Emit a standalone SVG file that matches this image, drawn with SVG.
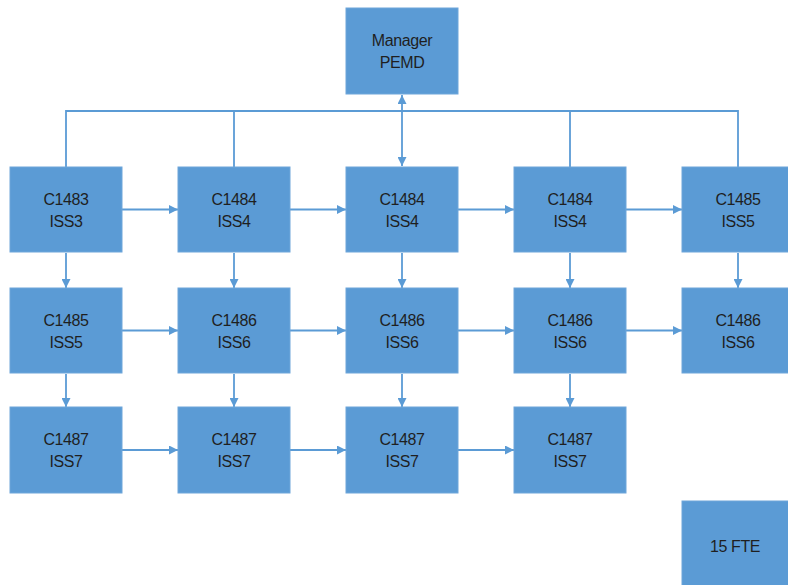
<svg xmlns="http://www.w3.org/2000/svg" width="788" height="585" viewBox="0 0 788 585">
<style>
.box{fill:#5B9BD5;stroke:#6FA6DA;stroke-width:1}
.t{font-family:"Liberation Sans",Arial,sans-serif;font-size:16px;letter-spacing:-0.4px;fill:#1f1f1f;text-anchor:middle}
.c{stroke:#5B9BD5;stroke-width:1.8;fill:none}
.a{stroke:#5B9BD5;stroke-width:1.8;fill:none;marker-end:url(#ah)}
</style>
<defs>
<marker id="ah" viewBox="0 0 10 10" refX="10" refY="5" markerUnits="userSpaceOnUse" markerWidth="9" markerHeight="9" orient="auto">
<path d="M0,0 L10,5 L0,10 Z" fill="#5B9BD5"/>
</marker>
<marker id="as" viewBox="0 0 10 10" refX="10" refY="5" markerUnits="userSpaceOnUse" markerWidth="9" markerHeight="9" orient="auto-start-reverse">
<path d="M0,0 L10,5 L0,10 Z" fill="#5B9BD5"/>
</marker>
</defs>
<rect width="788" height="585" fill="#fff"/>
<g id="connectors">
<path class="c" d="M66,167 V111 H738 V167 M234,111 V167 M570,111 V167"/>
<path class="c" d="M402,95 V166" marker-start="url(#as)" marker-end="url(#as)"/>
<path class="a" d="M122,209.5 H178"/>
<path class="a" d="M290,209.5 H346"/>
<path class="a" d="M458,209.5 H514"/>
<path class="a" d="M626,209.5 H682"/>
<path class="a" d="M122,330.5 H178"/>
<path class="a" d="M290,330.5 H346"/>
<path class="a" d="M458,330.5 H514"/>
<path class="a" d="M626,330.5 H682"/>
<path class="a" d="M122,450 H178"/>
<path class="a" d="M290,450 H346"/>
<path class="a" d="M458,450 H514"/>
<path class="a" d="M66,253 V288"/>
<path class="a" d="M234,253 V288"/>
<path class="a" d="M402,253 V288"/>
<path class="a" d="M570,253 V288"/>
<path class="a" d="M738,253 V288"/>
<path class="a" d="M66,374 V407"/>
<path class="a" d="M234,374 V407"/>
<path class="a" d="M402,374 V407"/>
<path class="a" d="M570,374 V407"/>
</g>
<g id="manager"><rect class="box" x="346" y="8" width="112" height="86"/><text class="t" x="402" y="46">Manager</text><text class="t" x="402" y="68">PEMD</text></g>
<g id="r1c1"><rect class="box" x="10" y="167" width="112" height="85"/><text class="t" x="66" y="204.5">C1483</text><text class="t" x="66" y="226.5">ISS3</text></g>
<g id="r1c2"><rect class="box" x="178" y="167" width="112" height="85"/><text class="t" x="234" y="204.5">C1484</text><text class="t" x="234" y="226.5">ISS4</text></g>
<g id="r1c3"><rect class="box" x="346" y="167" width="112" height="85"/><text class="t" x="402" y="204.5">C1484</text><text class="t" x="402" y="226.5">ISS4</text></g>
<g id="r1c4"><rect class="box" x="514" y="167" width="112" height="85"/><text class="t" x="570" y="204.5">C1484</text><text class="t" x="570" y="226.5">ISS4</text></g>
<g id="r1c5"><rect class="box" x="682" y="167" width="112" height="85"/><text class="t" x="738" y="204.5">C1485</text><text class="t" x="738" y="226.5">ISS5</text></g>
<g id="r2c1"><rect class="box" x="10" y="288" width="112" height="85"/><text class="t" x="66" y="325.5">C1485</text><text class="t" x="66" y="347.5">ISS5</text></g>
<g id="r2c2"><rect class="box" x="178" y="288" width="112" height="85"/><text class="t" x="234" y="325.5">C1486</text><text class="t" x="234" y="347.5">ISS6</text></g>
<g id="r2c3"><rect class="box" x="346" y="288" width="112" height="85"/><text class="t" x="402" y="325.5">C1486</text><text class="t" x="402" y="347.5">ISS6</text></g>
<g id="r2c4"><rect class="box" x="514" y="288" width="112" height="85"/><text class="t" x="570" y="325.5">C1486</text><text class="t" x="570" y="347.5">ISS6</text></g>
<g id="r2c5"><rect class="box" x="682" y="288" width="112" height="85"/><text class="t" x="738" y="325.5">C1486</text><text class="t" x="738" y="347.5">ISS6</text></g>
<g id="r3c1"><rect class="box" x="10" y="407" width="112" height="86"/><text class="t" x="66" y="445">C1487</text><text class="t" x="66" y="467">ISS7</text></g>
<g id="r3c2"><rect class="box" x="178" y="407" width="112" height="86"/><text class="t" x="234" y="445">C1487</text><text class="t" x="234" y="467">ISS7</text></g>
<g id="r3c3"><rect class="box" x="346" y="407" width="112" height="86"/><text class="t" x="402" y="445">C1487</text><text class="t" x="402" y="467">ISS7</text></g>
<g id="r3c4"><rect class="box" x="514" y="407" width="112" height="86"/><text class="t" x="570" y="445">C1487</text><text class="t" x="570" y="467">ISS7</text></g>
<g id="fte"><rect class="box" x="682" y="501" width="112" height="100"/><text class="t" x="735" y="552">15 FTE</text></g>
</svg>
